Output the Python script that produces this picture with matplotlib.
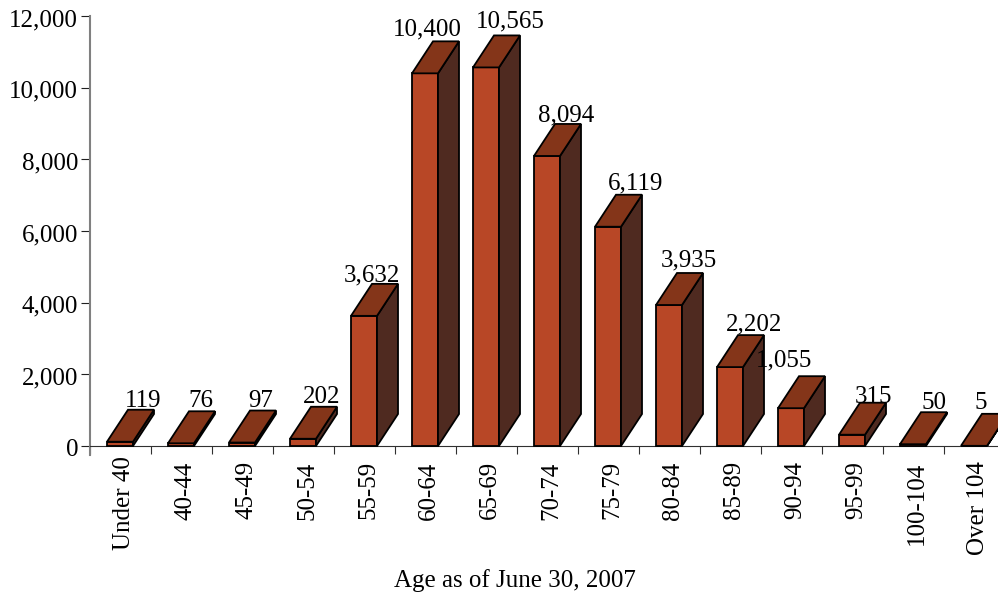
import matplotlib
matplotlib.use('Agg')
from matplotlib import pyplot as plt
from matplotlib.transforms import ScaledTranslation
import numpy as np

plt.rcParams['font.family'] = ['Liberation Serif', 'DejaVu Serif']

ages = ['Under 40', '40-44', '45-49', '50-54', '55-59', '60-64', '65-69', '70-74',
        '75-79', '80-84', '85-89', '90-94', '95-99', '100-104', 'Over 104']
counts = [119, 76, 97, 202, 3632, 10400, 10565, 8094, 6119, 3935, 2202, 1055, 315, 50, 5]
yTicks = [0, 2000, 4000, 6000, 8000, 10000, 12000]

# hand placed labels in the original: shift from the back of the top face, in pixels
labelDx = [2, -1, -2, -2, -13, -19, 3, -2, 7, -1, 3, -28, 1, 0, -14]
labelDy = [3, 4, 4, 4, 2, 6, 8, 3, 5, 7, 5, 10, 0, 3, 5]

frontColor = '#b84726'
topColor = '#843519'
sideColor = '#4f2a20'

W, H = 998, 595
x0, yBase, yTop = 90, 446, 16
pxPerCat = 61
pxPerVal = (yBase - yTop) / 12000
barW = 26 / pxPerCat
barOff = 17 / pxPerCat
depthX = 21 / pxPerCat
depthY = 32 / pxPerVal


def main():
    fig = plt.figure(figsize=(W / 100, H / 100), dpi=100)
    ax = fig.add_axes([x0 / W, 1 - yBase / H, (W - x0) / W, (yBase - yTop) / H])
    ax.set_xlim(0, (W - x0) / pxPerCat)
    ax.set_ylim(0, 12000)

    x = np.arange(len(counts)) + barOff
    edge = dict(edgecolor='black', linewidth=1.3, joinstyle='miter', clip_on=False, zorder=3)
    ax.bar(x, counts, width=barW, align='edge', color=frontColor, **edge)

    for xi, v in zip(x, counts):
        xr = xi + barW
        ax.fill([xr, xr + depthX, xr + depthX, xr],
                [0, depthY, v + depthY, v], facecolor=sideColor, **edge)
        ax.fill([xi, xr, xr + depthX, xi + depthX],
                [v, v, v + depthY, v + depthY], facecolor=topColor, **edge)

    for xi, v, dx, dy in zip(x, counts, labelDx, labelDy):
        ax.annotate(f'{v:,}', xy=(xi + barW / 2 + depthX, v + depthY),
                    xytext=(dx, dy), textcoords='offset pixels',
                    ha='center', va='baseline', fontsize=18, color='black', zorder=4,
                    annotation_clip=False)

    for side in ['top', 'right']:
        ax.spines[side].set_visible(False)
    ax.spines['left'].set_color('#808080')
    ax.spines['left'].set_linewidth(1.5)
    ax.spines['left'].set_bounds(-9 / pxPerVal, 12000)
    ax.spines['bottom'].set_color('#303030')
    ax.spines['bottom'].set_linewidth(0.8)

    ax.set_yticks(yTicks)
    ax.set_yticklabels([f'{t:,}' for t in yTicks], fontsize=18)
    ax.tick_params(axis='y', length=6.5, width=0.8, color='#202020', pad=2)
    # tick_params resets label transforms, so nudge the labels after it
    shift = ScaledTranslation(0, -4 / 100, fig.dpi_scale_trans)
    for lab in ax.get_yticklabels():
        lab.set_verticalalignment('center')
        lab.set_transform(lab.get_transform() + shift)

    ax.set_xticks(np.arange(len(ages)))
    ax.set_xticklabels([])
    ax.tick_params(axis='x', which='major', length=6, width=0.8, color='#303030')
    ax.set_xticks(np.arange(len(ages)) + 0.56, minor=True)
    ax.set_xticklabels(ages, minor=True, rotation=90, fontsize=18)
    ax.tick_params(axis='x', which='minor', length=0, pad=11)
    first = ax.get_xticklabels(minor=True)[0]
    first.set_transform(first.get_transform() + ScaledTranslation(0, 5 / 100, fig.dpi_scale_trans))

    ax.set_xlabel('Age as of June 30, 2007', fontsize=18)
    ax.xaxis.set_label_coords((515 - x0) / (W - x0), -(569 - yBase) / (yBase - yTop))

    fig.savefig('out.png', dpi=100)


if __name__ == '__main__':
    main()
